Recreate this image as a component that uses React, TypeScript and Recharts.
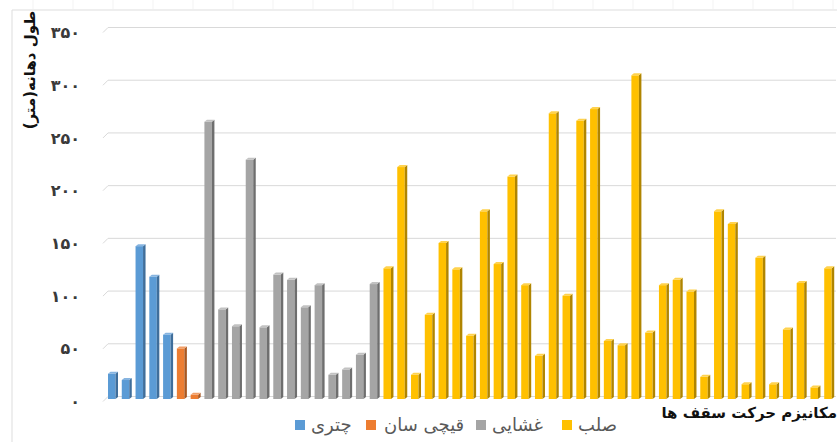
import React from 'react';
import { BarChart, Bar, XAxis, YAxis, CartesianGrid } from 'recharts';

// طول دهانه (متر) per roof, grouped by movement mechanism
const umbrella = [24, 18, 145, 116, 61]; // چتری
const scissor = [48, 4]; // قیچی سان
const membrane = [263, 85, 69, 227, 68, 118, 113, 87, 108, 23, 28, 42, 109]; // غشایی
const rigid = [
  124, 220, 23, 80, 148, 123, 60, 178, 128, 211, 108, 41, 271, 98, 264, 275, 55,
  51, 307, 63, 108, 113, 102, 21, 178, 166, 14, 134, 14, 66, 110, 11, 124,
]; // صلب

const groups = [
  { key: 'umbrella', label: 'چتری', values: umbrella },
  { key: 'scissor', label: 'قیچی سان', values: scissor },
  { key: 'membrane', label: 'غشایی', values: membrane },
  { key: 'rigid', label: 'صلب', values: rigid },
];

const yTicks = [0, 50, 100, 150, 200, 250, 300, 350];

const palette: Record<string, { front: string; side: string; top: string }> = {
  umbrella: { front: '#5B9BD5', side: '#3F6E9B', top: '#86B4E0' },
  scissor: { front: '#ED7D31', side: '#A85720', top: '#F29E66' },
  membrane: { front: '#A5A5A5', side: '#6E6E6E', top: '#C2C2C2' },
  rigid: { front: '#FFC000', side: '#B08500', top: '#FFD24D' },
};

// legend item placement (square left, text left)
const legendPos: Record<string, [number, number]> = {
  umbrella: [295, 311],
  scissor: [366, 384],
  membrane: [476, 492],
  rigid: [562, 578],
};

const data = groups.flatMap((g) =>
  g.values.map((v, i) => ({ name: `${g.key}-${i}`, value: v, group: g.key }))
);

const persian = (n: number) =>
  String(n).replace(/\d/g, (d) => '۰۱۲۳۴۵۶۷۸۹'[Number(d)]);

function Bar3D(props: any) {
  const { x, y, width, height, payload } = props;
  if (!height || height <= 0) return null;
  const c = palette[payload.group];
  const d = 2;
  const s = 2.5;
  const fw = width - s;
  return (
    <g>
      <rect x={x} y={y} width={fw} height={height} fill={c.front} />
      <polygon
        points={`${x + fw},${y} ${x + width},${y - d} ${x + width},${y + height - d} ${x + fw},${y + height}`}
        fill={c.side}
      />
      <polygon
        points={`${x},${y} ${x + s},${y - d} ${x + width},${y - d} ${x + fw},${y}`}
        fill={c.top}
      />
    </g>
  );
}

function GridLine(props: any) {
  const { x1, x2, y1 } = props;
  const yb = y1 - 2.5;
  return (
    <path
      key={props.key}
      d={`M${x1 - 3},${y1 + 2.5} L${x1 + 2},${yb} L${x2},${yb}`}
      fill="none"
      stroke="#D9D9D9"
      strokeWidth={1}
    />
  );
}

function YTick(props: any) {
  const { x, y, payload } = props;
  return (
    <text
      x={x}
      y={y + 2.5}
      dy="0.35em"
      textAnchor="end"
      fill="#3A3A3A"
      fontSize={16}
      fontWeight="bold"
      fontFamily="DejaVu Sans, sans-serif"
    >
      {persian(payload.value)}
    </text>
  );
}

export default function App() {
  return (
    <div
      style={{
        position: 'absolute',
        left: 0,
        top: 0,
        width: 837,
        height: 442,
        overflow: 'hidden',
        background: '#fff',
      }}
    >
      <svg width={837} height={442} style={{ position: 'absolute', left: 0, top: 0 }}>
        {[33, 73, 113, 153, 193, 233, 273, 313, 353, 393, 433, 473, 513, 553, 593, 633, 673, 713, 753, 793, 833].map((x) => (
          <line key={x} x1={x} x2={x} y1={0} y2={9} stroke="#F3F3F3" />
        ))}
        <path d="M12,442 L12,10 L837,10" fill="none" stroke="#DDDDDD" />
      </svg>
      <div style={{ position: 'absolute', left: 0, top: 0 }}>
        <BarChart
          width={837}
          height={442}
          data={data}
          margin={{ top: 30, right: 1, bottom: 43, left: 0 }}
          barSize={10}
        >
          <CartesianGrid vertical={false} horizontal={(p: any) => <GridLine {...p} />} />
          <XAxis dataKey="name" hide />
          <YAxis
            width={106}
            domain={[0, 350]}
            ticks={yTicks}
            axisLine={false}
            tickLine={false}
            tickMargin={20}
            tick={<YTick />}
          />
          <Bar dataKey="value" shape={<Bar3D />} isAnimationActive={false} />
        </BarChart>
      </div>
      <div
        style={{
          position: 'absolute',
          left: 30,
          top: 70,
          transform: 'translate(-50%, -50%) rotate(-90deg)',
          whiteSpace: 'nowrap',
          direction: 'rtl',
          fontFamily: 'DejaVu Sans, sans-serif',
          fontWeight: 'bold',
          fontSize: 15,
          color: '#111',
        }}
      >
        طول دهانه(متر)
      </div>
      <div
        style={{
          position: 'absolute',
          right: 0,
          top: 404,
          whiteSpace: 'nowrap',
          direction: 'rtl',
          fontFamily: 'DejaVu Sans, sans-serif',
          fontWeight: 'bold',
          fontSize: 15,
          color: '#111',
        }}
      >
        مکانیزم حرکت سقف ها
      </div>
      {groups.map((g) => (
        <React.Fragment key={g.key}>
          <span
            style={{
              position: 'absolute',
              left: legendPos[g.key][0],
              top: 420,
              width: 10,
              height: 10,
              background: palette[g.key].front,
            }}
          />
          <span
            style={{
              position: 'absolute',
              left: legendPos[g.key][1],
              top: 414,
              direction: 'rtl',
              whiteSpace: 'nowrap',
              fontFamily: 'DejaVu Sans, sans-serif',
              fontSize: 18,
              lineHeight: '22px',
              color: '#595959',
            }}
          >
            {g.label}
          </span>
        </React.Fragment>
      ))}
    </div>
  );
}
